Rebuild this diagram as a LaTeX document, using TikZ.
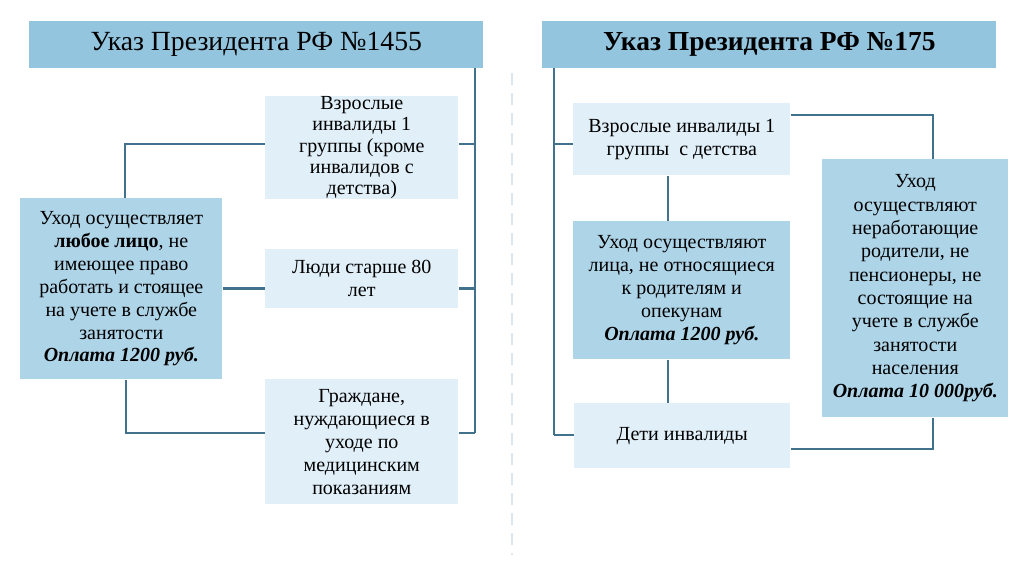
\documentclass[tikz,border=0pt]{standalone}
\usepackage{fontspec}
\setmainfont{Liberation Serif}
\begin{document}
\begin{tikzpicture}[x=0.75pt,y=-0.75pt,
  titlebox/.style={fill=titleblue,draw=none,inner sep=0pt,anchor=north west},
  lightbox/.style={fill=lightblue,draw=none,inner sep=0pt,align=center,anchor=north west,font=\fontsize{15}{17.2}\selectfont},
  bluebox/.style={fill=midblue,draw=none,inner sep=0pt,align=center,anchor=north west,font=\fontsize{15}{17.2}\selectfont},
  link/.style={draw=linkcol,line width=2pt},
]
\definecolor{titleblue}{HTML}{93C5DF}
\definecolor{midblue}{HTML}{AED4E8}
\definecolor{lightblue}{HTML}{E1EFF8}
\definecolor{linkcol}{HTML}{41718C}
\definecolor{dashcol}{HTML}{DCE6EE}
\useasboundingbox (0,0) rectangle (1024,576);
\fill[white] (0,0) rectangle (1024,576);
% divider
\draw[dashcol,line width=2pt,dash pattern=on 9pt off 6pt] (512,73) -- (512,555);
% ---------- left ----------
\node[titlebox,minimum width=454*0.75pt,minimum height=47*0.75pt,font=\fontsize{20.8}{23}\selectfont] (t1) at (29,21) {Указ Президента РФ №1455};
\node[lightbox,minimum width=193*0.75pt,minimum height=100*0.75pt,font=\fontsize{15}{16}\selectfont] (b1) at (265,96) {Взрослые\\инвалиды 1\\группы (кроме\\инвалидов с\\детства)};
\node[lightbox,minimum width=193*0.75pt,minimum height=59*0.75pt] (b2) at (265,249) {Люди старше 80\\лет};
\node[lightbox,minimum width=193*0.75pt,minimum height=125*0.75pt] (b3) at (265,379) {Граждане,\\нуждающиеся в\\уходе по\\медицинским\\показаниям};
\node[bluebox,minimum width=202*0.75pt,minimum height=181*0.75pt] (lb) at (20,198) {Уход осуществляет\\\textbf{любое лицо}, не\\имеющее право\\работать и стоящее\\на учете в службе\\занятости\\\textbf{\textit{Оплата 1200 руб.}}};
\coordinate (r1) at (475,68);
\coordinate (r2) at (475,433);
\coordinate (c1) at (125,144);
\coordinate (c2) at (126,433);
\draw[link] (r1) -- (r2);
\draw[link] (b1.east |- c1) -- (r1 |- c1);
\draw[link] (b2.east |- lb.east) -- (r1 |- lb.east);
\draw[link] (b3.east |- r2) -- (r2);
\draw[link] (b1.west |- c1) -- (c1) -- (c1 |- lb.north);
\draw[link] (lb.east) -- (b2.west |- lb.east);
\draw[link] (c2 |- lb.south) -- (c2) -- (b3.west |- c2);
% ---------- right ----------
\node[titlebox,minimum width=454*0.75pt,minimum height=47*0.75pt,font=\fontsize{20.6}{23}\selectfont\bfseries] (t2) at (542,21) {Указ Президента РФ №175};
\node[lightbox,minimum width=217*0.75pt,minimum height=72*0.75pt] (ba) at (573,103) {Взрослые инвалиды 1\\группы\ \ с детства};
\node[bluebox,minimum width=217*0.75pt,minimum height=138*0.75pt] (bb) at (573,221) {Уход осуществляют\\лица, не относящиеся\\к родителям и\\опекунам\\\textbf{\textit{Оплата 1200 руб.}}};
\node[lightbox,minimum width=216*0.75pt,minimum height=65*0.75pt] (bc) at (574,403) {Дети инвалиды};
\node[bluebox,minimum width=186*0.75pt,minimum height=258*0.75pt,font=\fontsize{15}{17.5}\selectfont] (bd) at (822,159) {Уход\\осуществляют\\неработающие\\родители, не\\пенсионеры, не\\состоящие на\\учете в службе\\занятости\\населения\\\textbf{\textit{Оплата 10 000руб.}}};
\coordinate (l1) at (554,68);
\coordinate (l2) at (554,435);
\coordinate (a1) at (933,115);
\coordinate (a2) at (933,449);
\coordinate (v1) at (668,175);
\draw[link] (l1) -- (l2);
\draw[link] (l1 |- 0,144) -- (ba.west |- 0,144);
\draw[link] (l2) -- (bc.west |- l2);
\draw[link] (ba.east |- a1) -- (a1) -- (a1 |- bd.north);
\draw[link] (v1 |- ba.south) -- (v1 |- bb.north);
\draw[link] (v1 |- bb.south) -- (v1 |- bc.north);
\draw[link] (a1 |- bd.south) -- (a2) -- (bc.east |- a2);
\end{tikzpicture}
\end{document}
